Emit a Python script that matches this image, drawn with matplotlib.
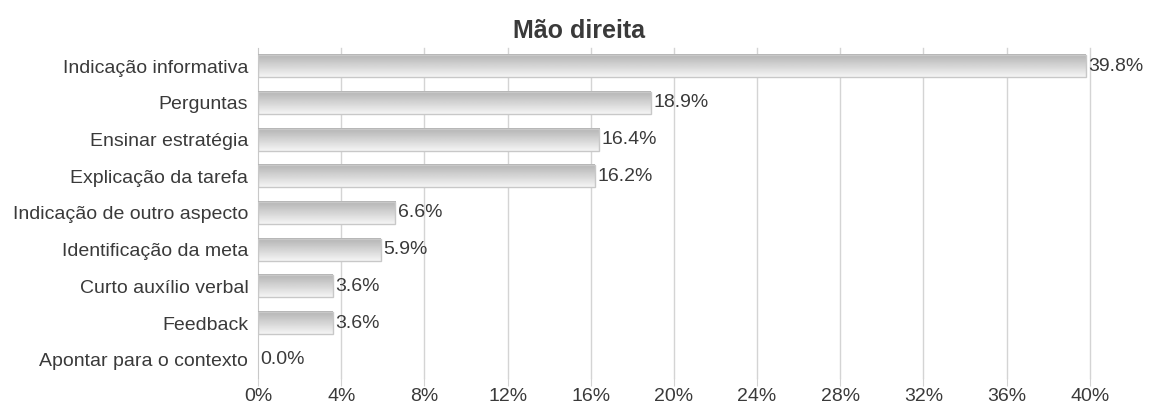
import numpy as np
import matplotlib.pyplot as plt

categories = ['Indicação informativa', 'Perguntas', 'Ensinar estratégia',
              'Explicação da tarefa', 'Indicação de outro aspecto',
              'Identificação da meta', 'Curto auxílio verbal', 'Feedback',
              'Apontar para o contexto']
values = [39.8, 18.9, 16.4, 16.2, 6.6, 5.9, 3.6, 3.6, 0.0]
ticks = [0, 4, 8, 12, 16, 20, 24, 28, 32, 36, 40]

plt.rcParams['font.family'] = ['Liberation Sans', 'DejaVu Sans']

fig = plt.figure(figsize=(11.52, 4.03), dpi=100)
ax = fig.add_axes([0.224, 0.062, 0.722, 0.819])

n = len(categories)
ypos = np.arange(n)
h = 0.6
grad = np.linspace(0.70, 0.96, 50).reshape(-1, 1)

for y, v in zip(ypos, values):
    if v > 0:
        ax.imshow(grad, cmap='gray', vmin=0, vmax=1, aspect='auto',
                  extent=[0, v, y + h / 2, y - h / 2], zorder=3,
                  interpolation='bilinear')
        ax.add_patch(plt.Rectangle((0, y - h / 2), v, h, fill=False,
                                   edgecolor='#c8c8c8', lw=1, zorder=4))
    ax.text(v + 0.12, y, '%.1f%%' % v, va='center', ha='left',
            fontsize=14, color='#3a3a3a', zorder=5)

# grid lines drawn by hand so the 40% line is not clipped
for t in ticks[1:]:
    ax.axvline(t, color='#d4d4d4', lw=1, zorder=0, clip_on=False)

ax.set_xlim(0, 40)
ax.set_ylim(n - 0.5, -0.5)
ax.set_yticks(ypos)
ax.set_yticklabels(categories, fontsize=14, color='#3a3a3a')
ax.set_xticks(ticks)
ax.set_xticklabels(['%d%%' % t for t in ticks], fontsize=14, color='#3a3a3a')
ax.tick_params(axis='y', length=0, pad=7)
ax.tick_params(axis='x', length=6, color='#d4d4d4', pad=1)
for s in ['top', 'right', 'bottom']:
    ax.spines[s].set_visible(False)
ax.spines['left'].set_color('#c8c8c8')
fig.text(0.503, 0.922, 'Mão direita', fontsize=18, fontweight='bold',
         color='#3a3a3a', ha='center', va='center')

fig.savefig('out.png', dpi=100)
